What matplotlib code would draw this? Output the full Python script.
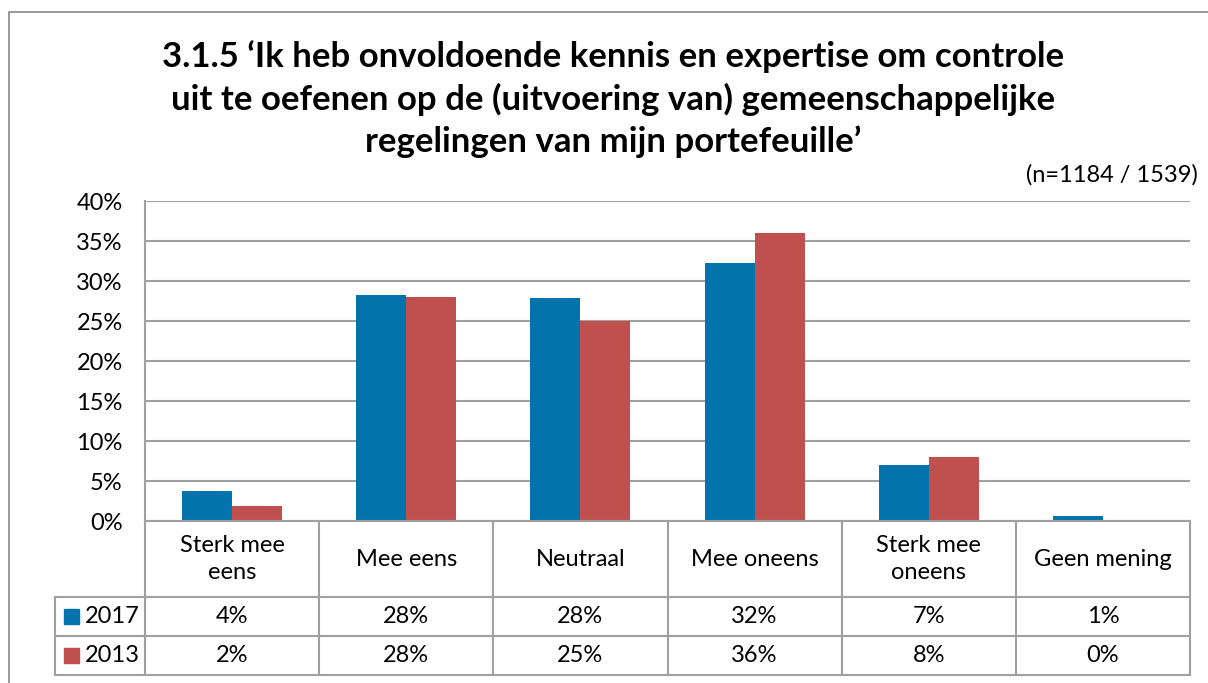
import matplotlib
matplotlib.use("Agg")
import matplotlib.pyplot as plt
from matplotlib.patches import Rectangle
import numpy as np

plt.rcParams['font.family'] = ['Lato', 'DejaVu Sans']

# data
categories = ["Sterk mee\neens", "Mee eens", "Neutraal", "Mee oneens", "Sterk mee\noneens", "Geen mening"]
series_names = ["2017", "2013"]
values_2017 = [3.75, 28.2, 27.9, 32.3, 7.0, 0.6]
values_2013 = [1.9, 28.0, 25.0, 36.0, 8.0, 0.0]
labels_2017 = ["4%", "28%", "28%", "32%", "7%", "1%"]
labels_2013 = ["2%", "28%", "25%", "36%", "8%", "0%"]
yticks = [0, 5, 10, 15, 20, 25, 30, 35, 40]

title = ("3.1.5 \u2018Ik heb onvoldoende kennis en expertise om controle\n"
         "uit te oefenen op de (uitvoering van) gemeenschappelijke\n"
         "regelingen van mijn portefeuille\u2019")
n_label = "(n=1184 / 1539)"

colors = ["#0273AC", "#C0504D"]
grid_color = "#A0A0A0"
fs = 17

W, H = 1208, 683
fig = plt.figure(figsize=(W / 100, H / 100), dpi=100)


def px_box(x0, y0, x1, y1):
    # pixel box (top-left origin) -> figure fraction rect
    return [x0 / W, 1 - y1 / H, (x1 - x0) / W, (y1 - y0) / H]


# outer chart border
fig.add_artist(Rectangle((9 / W, -0.01), 1.0, 1 - 12 / H + 0.01, transform=fig.transFigure,
                         fill=False, edgecolor="#888888", lw=1.2))

plot_l, plot_r, plot_t, plot_b = 145, 1190, 201, 521
ax = fig.add_axes(px_box(plot_l, plot_t, plot_r, plot_b))
x = np.arange(len(categories))
bw = 0.287
ax.bar(x - bw / 2, values_2017, bw, color=colors[0], zorder=3)
ax.bar(x + bw / 2, values_2013, bw, color=colors[1], zorder=3)
ax.set_xlim(-0.5, len(categories) - 0.5)
ax.set_ylim(0, 40)
ax.set_yticks(yticks)
ax.set_yticklabels([f"{t}%" for t in yticks], fontsize=fs)
ax.tick_params(axis='y', length=0, pad=16)
ax.set_xticks([])
for t in yticks:
    ax.axhline(t, color=grid_color, lw=1.5, zorder=1)
for s in ["top", "right", "bottom"]:
    ax.spines[s].set_visible(False)
ax.spines["left"].set_color(grid_color)
ax.spines["left"].set_linewidth(1.5)

# data table below the plot
leg_l = 55
tab_t, row1, row2, tab_b = 521, 597, 636, 675
units_per_px = (len(categories)) / (plot_r - plot_l)
tax = fig.add_axes(px_box(leg_l, tab_t, plot_r, tab_b))
x_left = -0.5 - (plot_l - leg_l) * units_per_px
tax.set_xlim(x_left, len(categories) - 0.5)
tax.set_ylim(tab_b, tab_t)
tax.axis("off")
lc = dict(color=grid_color, lw=1.5, clip_on=False)

# horizontal lines
tax.plot([-0.5, len(categories) - 0.5], [tab_t, tab_t], **lc)
for yy in [row1, row2, tab_b]:
    tax.plot([x_left, len(categories) - 0.5], [yy, yy], **lc)
# vertical lines
tax.plot([x_left, x_left], [row1, tab_b], **lc)
for i in range(len(categories) + 1):
    tax.plot([i - 0.5, i - 0.5], [tab_t, tab_b], **lc)

for i, cat in enumerate(categories):
    tax.text(i, (tab_t + row1) / 2, cat, ha="center", va="center", fontsize=fs,
             linespacing=1.3)
    tax.text(i, (row1 + row2) / 2, labels_2017[i], ha="center", va="center", fontsize=fs)
    tax.text(i, (row2 + tab_b) / 2, labels_2013[i], ha="center", va="center", fontsize=fs)

# legend keys in the table
for k, (name, yc) in enumerate([(series_names[0], (row1 + row2) / 2),
                                (series_names[1], (row2 + tab_b) / 2)]):
    tax.add_patch(Rectangle((x_left + 9 * units_per_px, yc - 7.5), 15 * units_per_px, 15,
                            color=colors[k], clip_on=False))
    tax.text(x_left + 30 * units_per_px, yc, name, ha="left", va="center", fontsize=fs)

fig.text(613 / W, 1 - 40 / H, title, ha="center", va="top", fontsize=25,
         fontweight="bold", linespacing=1.36)
fig.text(1198 / W, 1 - 175 / H, n_label, ha="right", va="center", fontsize=fs)

fig.savefig("out.png", dpi=100, facecolor="white")
